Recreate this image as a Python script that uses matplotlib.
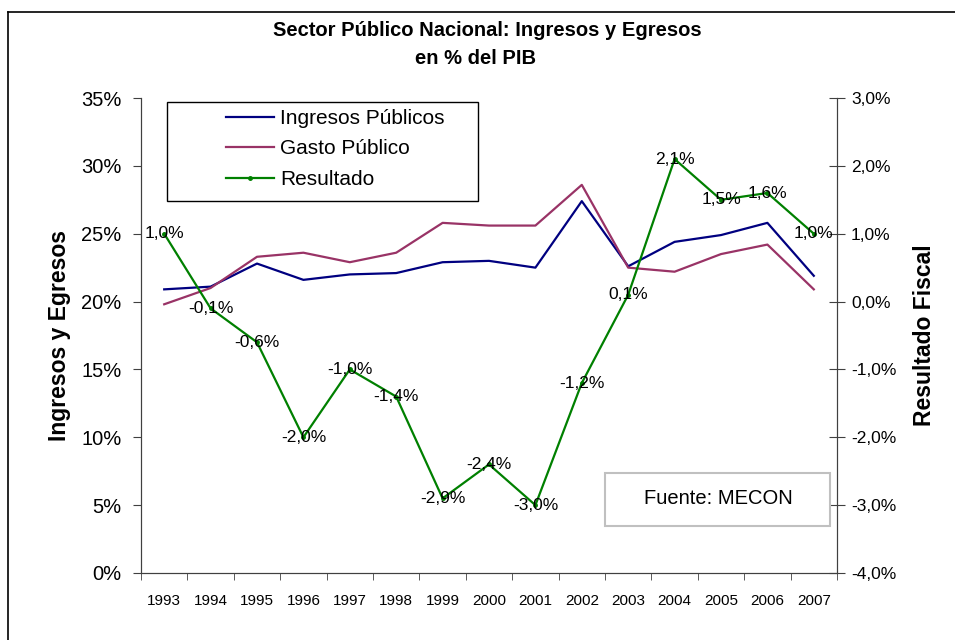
import matplotlib
matplotlib.use("Agg")
import matplotlib.pyplot as plt
from matplotlib.lines import Line2D
from matplotlib.patches import Rectangle
from matplotlib.ticker import FuncFormatter, FixedLocator

plt.rcParams["font.family"] = ["Liberation Sans", "DejaVu Sans"]

# datos (% del PIB)
years = ["1993", "1994", "1995", "1996", "1997", "1998", "1999", "2000",
         "2001", "2002", "2003", "2004", "2005", "2006", "2007"]
ingresos = [20.9, 21.1, 22.8, 21.6, 22.0, 22.1, 22.9, 23.0,
            22.5, 27.4, 22.6, 24.4, 24.9, 25.8, 21.9]
gasto = [19.8, 21.0, 23.3, 23.6, 22.9, 23.6, 25.8, 25.6,
         25.6, 28.6, 22.5, 22.2, 23.5, 24.2, 20.9]
resultado = [1.0, -0.1, -0.6, -2.0, -1.0, -1.4, -2.9, -2.4,
             -3.0, -1.2, 0.1, 2.1, 1.5, 1.6, 1.0]

W, H = 955, 640


def fx(px):
    return px / W


def fy(py):
    return 1 - py / H


fig = plt.figure(figsize=(9.55, 6.4), dpi=100)
ax = fig.add_axes([fx(141), fy(573), 696 / W, 475 / H])
ax2 = ax.twinx()

x = list(range(len(years)))
l1, = ax.plot(x, ingresos, color="#000080", lw=1.6, label="Ingresos Públicos")
l2, = ax.plot(x, gasto, color="#993366", lw=1.6, label="Gasto Público")
l3, = ax2.plot(x, resultado, color="#008000", lw=1.6, marker="o", markersize=2.5,
               label="Resultado")

for xi, v in zip(x, resultado):
    ax2.text(xi, v, f"{v:.1f}%".replace(".", ","), ha="center", va="center",
             fontsize=12.5, color="black")

ax.set_xlim(-0.5, len(years) - 0.5)
ax.set_ylim(0, 35)
ax2.set_ylim(-4, 3)
ax.set_yticks(range(0, 36, 5))
ax.yaxis.set_major_formatter(FuncFormatter(lambda v, p: f"{v:.0f}%"))
ax2.set_yticks(range(-4, 4))
ax2.yaxis.set_major_formatter(FuncFormatter(lambda v, p: f"{v:.1f}%".replace(".", ",")))

ax.set_xticks(x)
ax.set_xticklabels(years, fontsize=11)
ax.xaxis.set_minor_locator(FixedLocator([i - 0.5 for i in range(len(years) + 1)]))
ax.tick_params(axis="x", which="major", length=0, pad=15)
ax.tick_params(axis="x", which="minor", length=5, direction="out", color="#404040")
ax.tick_params(axis="y", labelsize=14.5, length=6, direction="out", color="#404040", pad=8)
ax2.tick_params(axis="y", labelsize=12.5, length=12, direction="inout", color="#404040", pad=4)

for a in (ax, ax2):
    a.spines["top"].set_visible(False)
    for s in ("left", "right", "bottom"):
        a.spines[s].set_color("#404040")

ax.set_ylabel("Ingresos y Egresos", fontsize=16.5, fontweight="bold", labelpad=7)
ax2.set_ylabel("Resultado Fiscal", fontsize=16.5, fontweight="bold", labelpad=12)

fig.text(fx(487), fy(31), "Sector Público Nacional: Ingresos y Egresos",
         ha="center", va="center", fontsize=14.5, fontweight="bold")
fig.text(fx(475), fy(58), "en % del PIB", ha="center", va="center",
         fontsize=14.5, fontweight="bold")

# leyenda con marco propio
fig.add_artist(Rectangle((fx(167), fy(201)), 311 / W, 99 / H, transform=fig.transFigure,
                         fc="white", ec="black", lw=1.0, zorder=5))
leg = fig.legend(handles=[l1, l2, l3], loc="center left",
                 bbox_to_anchor=(fx(226), fy(149)), fontsize=15, frameon=False,
                 handlelength=2.3, handletextpad=0.3, borderpad=0, borderaxespad=0,
                 labelspacing=0.55)
leg.set_zorder(6)

# caja de fuente
fig.add_artist(Rectangle((fx(605), fy(526)), 225 / W, 53 / H, transform=fig.transFigure,
                         fc="white", ec="#c0c0c0", lw=1.5, zorder=5))
fig.text(fx(718), fy(499), "Fuente: MECON", ha="center", va="center",
         fontsize=14.5, zorder=6)

# marco exterior
fig.add_artist(Line2D([fx(8), fx(8)], [0, fy(12)], color="black", lw=1.2))
fig.add_artist(Line2D([fx(8), 1], [fy(12), fy(12)], color="black", lw=1.2))

fig.savefig("out.png", dpi=100)
